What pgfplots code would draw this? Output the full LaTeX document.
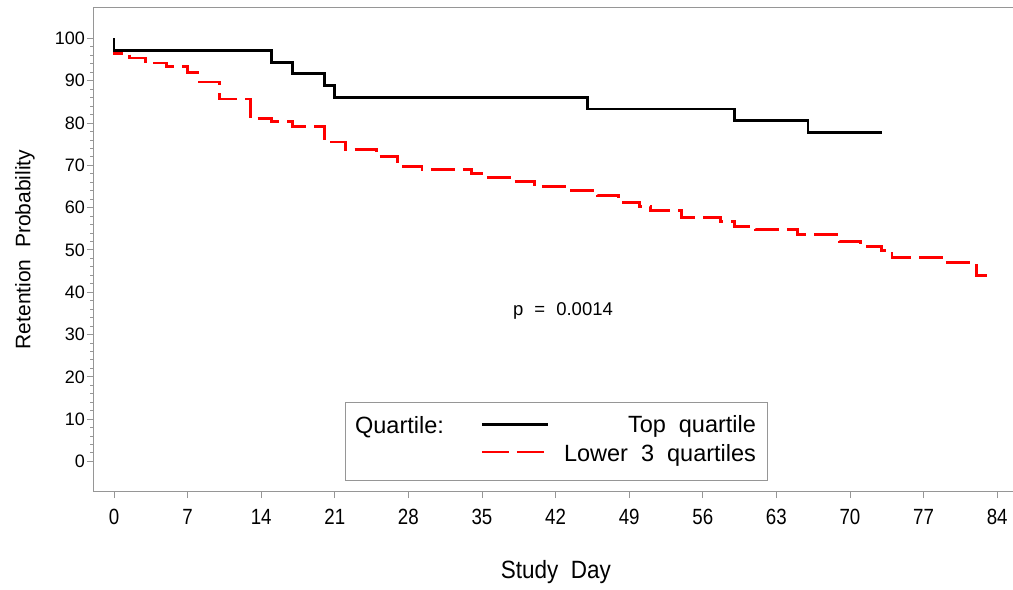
\documentclass[border=0pt]{standalone}
\usepackage{fontspec}
\setmainfont{Liberation Sans}
\usepackage{pgfplots}
\pgfplotsset{compat=1.18}
\definecolor{axgray}{RGB}{150,150,150}
\begin{document}
\begin{tikzpicture}
\begin{axis}[
  name=ax, scale only axis, width=920pt, height=483pt,
  xmin=-1.9, xmax=85.6, ymin=-7, ymax=107.2,
  axis line style={axgray, line width=1pt},
  xtick={0,7,...,84}, ytick={0,10,...,100},
  minor y tick num=4,
  tick align=outside, tick pos=left,
  major tick length=7pt, minor tick length=3.5pt,
  tick style={axgray, line width=0.9pt},
  /pgf/number format/assume math mode=true,
  yticklabel style={font=\fontsize{18}{20}\selectfont, inner sep=2pt},
  xticklabel style={font=\fontsize{22}{24}\selectfont, xscale=0.85, yshift=-8pt},
  xlabel={Study\ \ Day}, ylabel={Retention\ \ Probability},
  xlabel style={font=\fontsize{25}{28}\selectfont, xscale=0.9, at={(axis description cs:0.502,-0.168)}, anchor=center},
  ylabel style={font=\fontsize{21}{24}\selectfont, at={(axis description cs:-0.075,0.5)}, anchor=center},
]
% Lower 3 quartiles
\addplot[const plot, red, line width=2.8pt, dash pattern=on 24pt off 8pt] coordinates {
(0,100) (0,96.4) (1.5,95.4) (3,94.2) (5,93.4) (7,92.0) (8,89.7) (10,85.7) (13,81.0)
(15,80.4) (17,79.2) (20,75.5) (22,73.7) (25,72.0) (27,69.8) (29.3,69.0) (34,68.0)
(35,67.1) (38,66.1) (40,65.0) (43,64.1) (46,62.9) (48,61.3) (50,60.3) (51,59.4)
(54,57.7) (57.7,56.8) (59,55.6) (61,54.8) (65,53.7) (69,51.9) (71,50.9) (73,49.9)
(74,48.3) (79,47.0) (82,44.0) (83,44.0)
};
% Top quartile
\addplot[const plot, black, line width=2.8pt] coordinates {
(0,100) (0,97.2) (15,94.4) (17,91.7) (20,88.9) (21,86.1) (45,83.3) (59,80.6) (66,77.8) (73,77.8)
};
\node[font=\fontsize{18.5}{20}\selectfont] at (axis cs:42.7,35.5) {p\hspace{0.6em}=\hspace{0.6em}0.0014};
% legend
\draw[axgray, line width=0.8pt, fill=white] (axis cs:22,14) rectangle (axis cs:62.1,-4.4);
\node[font=\fontsize{23.5}{25}\selectfont, anchor=west] at (axis cs:22.6,8.2) {Quartile:};
\draw[black, line width=2.8pt] (axis cs:35.0,8.8) -- (axis cs:41.3,8.8);
\draw[red, line width=2.8pt, dash pattern=on 27pt off 8pt] (axis cs:35.0,2.2) -- (axis cs:41.2,2.2);
\node[font=\fontsize{23.5}{25}\selectfont, anchor=east] at (axis cs:61.4,8.2) {Top\ \ quartile};
\node[font=\fontsize{23.5}{25}\selectfont, anchor=east] at (axis cs:61.4,1.5) {Lower\ \ 3\ \ quartiles};
\end{axis}
\pgfresetboundingbox
\path[use as bounding box] ([shift={(-94pt,-98pt)}]ax.south west) rectangle ([shift={(-1pt,8pt)}]ax.north east);
\end{tikzpicture}
\end{document}
